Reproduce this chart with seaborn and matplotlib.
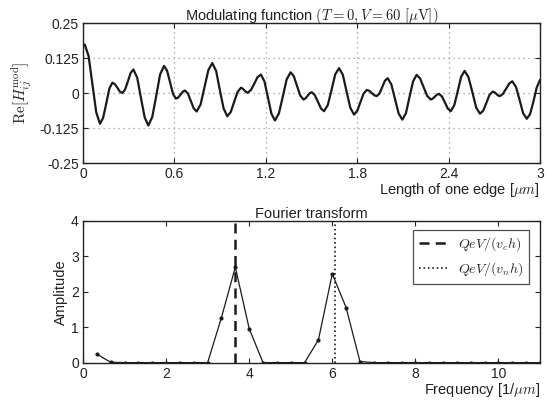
import numpy as np
import matplotlib
matplotlib.use("Agg")
import matplotlib.pyplot as plt
import seaborn as sns

sns.set_style("ticks")
plt.rcParams['font.family'] = ['Liberation Sans', 'DejaVu Sans']
plt.rcParams['mathtext.fontset'] = 'cm'

# Modulating function (x in um)
edge_um = [0.000, 0.012, 0.037, 0.062, 0.087, 0.112, 0.132, 0.153, 0.173, 0.193,
           0.209, 0.226, 0.242, 0.258, 0.276, 0.295, 0.313, 0.331, 0.356, 0.380,
           0.405, 0.429, 0.455, 0.481, 0.506, 0.532, 0.552, 0.571, 0.591, 0.610,
           0.625, 0.640, 0.655, 0.670, 0.689, 0.708, 0.727, 0.746, 0.772, 0.798,
           0.823, 0.849, 0.874, 0.898, 0.923, 0.947, 0.970, 0.992, 1.015, 1.037,
           1.048, 1.059, 1.070, 1.081, 1.103, 1.125, 1.146, 1.168, 1.191, 1.214,
           1.237, 1.260, 1.286, 1.312, 1.337, 1.363, 1.384, 1.405, 1.426, 1.447,
           1.461, 1.474, 1.488, 1.501, 1.521, 1.542, 1.562, 1.582, 1.607, 1.632,
           1.656, 1.681, 1.706, 1.730, 1.755, 1.779, 1.800, 1.821, 1.842, 1.863,
           1.879, 1.896, 1.912, 1.928, 1.946, 1.964, 1.982, 2.000, 2.024, 2.048,
           2.072, 2.096, 2.120, 2.143, 2.167, 2.190, 2.213, 2.236, 2.259, 2.282,
           2.296, 2.310, 2.323, 2.337, 2.356, 2.376, 2.395, 2.414, 2.437, 2.460,
           2.482, 2.505, 2.530, 2.556, 2.581, 2.606, 2.627, 2.648, 2.668, 2.689,
           2.701, 2.713, 2.725, 2.737, 2.757, 2.778, 2.798, 2.818, 2.842, 2.866,
           2.889, 2.913, 2.935, 2.957, 2.978, 3.000]
re_h = [0.168, 0.173, 0.132, 0.032, -0.069, -0.110, -0.089, -0.037, 0.016, 0.037,
        0.032, 0.019, 0.005, 0.000, 0.012, 0.042, 0.072, 0.084, 0.055, -0.016,
        -0.087, -0.116, -0.085, -0.010, 0.066, 0.097, 0.080, 0.039, -0.003, -0.020,
        -0.016, -0.006, 0.005, 0.009, -0.002, -0.029, -0.055, -0.066, -0.041, 0.021,
        0.082, 0.107, 0.079, 0.012, -0.055, -0.083, -0.068, -0.032, 0.004, 0.019,
        0.016, 0.010, 0.004, 0.001, 0.011, 0.034, 0.057, 0.066, 0.042, -0.016,
        -0.074, -0.098, -0.073, -0.012, 0.049, 0.074, 0.060, 0.026, -0.009, -0.023,
        -0.019, -0.010, -0.001, 0.003, -0.007, -0.031, -0.055, -0.065, -0.043, 0.012,
        0.067, 0.089, 0.065, 0.006, -0.053, -0.077, -0.064, -0.033, -0.002, 0.011,
        0.008, 0.000, -0.008, -0.011, -0.002, 0.021, 0.044, 0.053, 0.031, -0.021,
        -0.073, -0.095, -0.072, -0.015, 0.042, 0.065, 0.052, 0.021, -0.010, -0.023,
        -0.020, -0.013, -0.006, -0.003, -0.012, -0.034, -0.056, -0.065, -0.044, 0.007,
        0.058, 0.079, 0.057, 0.003, -0.052, -0.074, -0.063, -0.035, -0.007, 0.005,
        0.003, -0.003, -0.009, -0.011, -0.003, 0.016, 0.034, 0.042, 0.022, -0.025,
        -0.072, -0.092, -0.075, -0.030, 0.019, 0.047]

# Fourier transform (frequency in 1/um, step 1/3)
freq = [k / 3 for k in range(1, 34)]
amp = [0.25, 0.02, 0.01, 0.01, 0.01, 0.01, 0.01, 0.01, 0.01, 1.28,
       2.70, 0.97, 0.01, 0.01, 0.01, 0.01, 0.65, 2.51, 1.56, 0.04,
       0.01, 0.01, 0.01, 0.01, 0.01, 0.01, 0.01, 0.01, 0.01, 0.01,
       0.01, 0.01, 0.01]

vline_x = [3.66, 6.07]
vline_labels = [r'$QeV/(v_c h)$', r'$QeV/(v_n h)$']

top_xticks = [0, 0.6, 1.2, 1.8, 2.4, 3]
top_yticks = [-0.25, -0.125, 0, 0.125, 0.25]
top_yticklabels = ['-0.25', '-0.125', '0', '0.125', '0.25']
bot_xticks = [0, 2, 4, 6, 8, 10]
bot_yticks = [0, 1, 2, 3, 4]

fig = plt.figure(figsize=(5.55, 4.01), dpi=100)
ax1 = fig.add_axes([0.1495, 0.5935, 0.8235, 0.349])
ax2 = fig.add_axes([0.1495, 0.0948, 0.8235, 0.3542])

txt = '#222222'

# top panel
sns.lineplot(x=edge_um, y=re_h, ax=ax1, color='#1a1a1a', linewidth=1.6, sort=False)
ax1.set_xlim(0, 3)
ax1.set_ylim(-0.25, 0.25)
ax1.set_xticks(top_xticks)
ax1.set_xticklabels(['0', '0.6', '1.2', '1.8', '2.4', '3'])
ax1.set_yticks(top_yticks)
ax1.set_yticklabels(top_yticklabels)
ax1.grid(True, linestyle=(0, (1, 3)), color='#999999', linewidth=0.9)
ax1.set_title(r'Modulating function $(T=0, V=60\ [\mu\mathrm{V}])$', fontsize=10.5,
              color=txt, pad=2)
ax1.set_xlabel(r'Length of one edge [$\mu m$]', loc='right', fontsize=10.5,
               color=txt, labelpad=0)
ax1.set_ylabel(r'$\mathrm{Re}[H^{\mathrm{mod}}_{ij}]$', fontsize=11, color=txt, labelpad=4)

# bottom panel
sns.lineplot(x=freq, y=amp, ax=ax2, color='#1a1a1a', linewidth=0.9, marker='o',
             markersize=3, markeredgewidth=0, sort=False)
styles = [dict(linestyle=(0, (4, 2.5)), linewidth=1.8), dict(linestyle=':', linewidth=1.2)]
for xv, lab, st in zip(vline_x, vline_labels, styles):
    ax2.axvline(xv, color='#1a1a1a', label=lab, **st)
ax2.set_xlim(0, 11)
ax2.set_ylim(0, 4)
ax2.set_xticks(bot_xticks)
ax2.set_yticks(bot_yticks)
ax2.set_title('Fourier transform', fontsize=10.5, color=txt, pad=2)
ax2.set_xlabel(r'Frequency [1/$\mu m$]', loc='right', fontsize=10.5, color=txt, labelpad=0)
ax2.set_ylabel('Amplitude', fontsize=10.5, color=txt, labelpad=2)
leg = ax2.legend(loc='upper right', fontsize=10, frameon=True, fancybox=False,
                 edgecolor='#222222', handlelength=2.0, borderpad=0.4,
                 bbox_to_anchor=(0.99, 0.985))
leg.get_frame().set_linewidth(0.9)

for ax in (ax1, ax2):
    ax.tick_params(direction='in', top=True, right=True, length=3.5, width=0.8,
                   labelsize=10, colors=txt, pad=3)
    for s in ax.spines.values():
        s.set_linewidth(1.0)
        s.set_color('#222222')

fig.savefig('out.png', dpi=100)
